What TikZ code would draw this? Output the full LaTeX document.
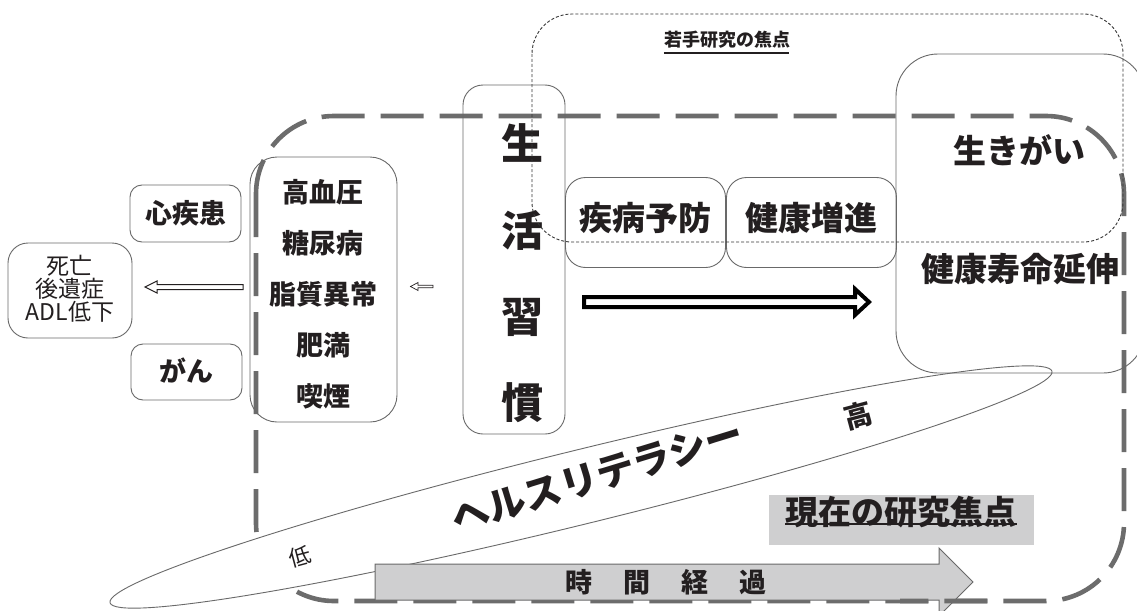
\documentclass[tikz,border=0pt]{standalone}
\usepackage{fontspec}
\newfontfamily\jp{Noto Sans CJK JP}
\definecolor{dashc}{RGB}{108,108,108}
\definecolor{lgray}{RGB}{207,207,208}
\definecolor{txt}{RGB}{35,31,32}
\definecolor{boxc}{RGB}{105,105,105}
\definecolor{dotc}{RGB}{55,55,55}
\begin{document}
\begin{tikzpicture}[x=1pt,y=-1pt,
  box/.style={draw=boxc,line width=0.9pt,rounded corners=#1,minimum width=0pt,minimum height=0pt,inner sep=0pt},
  bigdash/.style={draw=dashc,line width=4.6pt,dash pattern=on 43pt off 16pt,rounded corners=78pt},
  dotrect/.style={draw=dotc,line width=0.9pt,dash pattern=on 3pt off 2pt,rounded corners=40pt},
  bt/.style={text=txt,inner sep=0pt,font=\jp\bfseries\fontsize{#1}{#1}\selectfont},
  rt/.style={text=txt,inner sep=0pt,font=\jp\fontsize{#1}{#1}\selectfont},
  band/.style={draw=boxc,line width=0.9pt,fill=white},
]
\useasboundingbox[fill=white] (0,0) rectangle (1137,610);

% big dashed frame
\draw[bigdash] (256,116) rectangle (1124,601);

% health literacy band
\draw[band,rotate around={13.8:(581,487)}] (581,487) ellipse [x radius=485, y radius=37];
\node[bt=38,rotate=17] (hl) at (597,476) {ヘルスリテラシー};
\node[bt=28,rotate=15] (high) at (858,416) {高};
\node[rt=22,rotate=15] (low) at (300,557) {低};

% left outcome box
\node[box=20pt,minimum width=124pt,minimum height=95pt] (death) at (70,290.5) {};
\node[rt=23,align=center] (deathT) at (70,289) {\fontsize{23pt}{29pt}\selectfont 死亡\\後遺症\\ADL低下};

% disease boxes
\node[box=12pt,minimum width=111pt,minimum height=57pt] (heart) at (185.5,213.5) {};
\node[bt=27] (heartT) at (185.5,213) {心疾患};
\node[box=12pt,minimum width=111pt,minimum height=56pt] (cancer) at (186.5,372) {};
\node[bt=27] (cancerT) at (186.5,371) {がん};

% risk factor box
\node[box=27pt,minimum width=147pt,minimum height=265pt] (risk) at (323.5,289.5) {};
\node[bt=27] (r1) at (323,192) {高血圧};
\node[bt=27] (r2) at (323,243) {糖尿病};
\node[bt=27] (r3) at (323,294) {脂質異常};
\node[bt=27] (r4) at (323,345) {肥満};
\node[bt=27] (r5) at (323,396) {喫煙};

% hollow arrows
\draw[draw=txt,line width=1pt,fill=white,line join=miter]
  (243,284.5) -- (157,284.5) -- (157,281) -- (145,287) -- (157,293) -- (157,289.5) -- (243,289.5) -- cycle;
\draw[draw=txt,line width=0.7pt,fill=white,line join=miter]
  (433,285.3) -- (418,285.3) -- (418,282.5) -- (410.5,286.5) -- (418,290.5) -- (418,287.7) -- (433,287.7) -- cycle;

% lifestyle box
\node[box=20pt,minimum width=102pt,minimum height=349pt] (life) at (514,259.5) {};
\node[bt=42] (l1) at (522,143) {生};
\node[bt=42] (l2) at (522,230) {活};
\node[bt=42] (l3) at (522,317) {習};
\node[bt=42] (l4) at (522,403) {慣};

% prevention / promotion boxes
\node[box=20pt,minimum width=160pt,minimum height=90pt] (prev) at (645.5,222.5) {};
\node[bt=33] (prevT) at (645,218) {疾病予防};
\node[box=20pt,minimum width=170pt,minimum height=90pt] (prom) at (811.5,222.5) {};
\node[bt=33] (promT) at (811,218) {健康増進};

% thick arrow
\draw[draw=black,line width=4pt,fill=white,line join=miter]
  (584,297) -- (855,297) -- (855,289) -- (869,302) -- (855,315) -- (855,307) -- (584,307) -- cycle;

% right box
\node[box=42pt,minimum width=249pt,minimum height=319pt] (goal) at (1020.5,213.5) {};
\node[bt=33] (goalA) at (1019,150) {生きがい};
\node[bt=33] (goalB) at (1020,269) {健康寿命延伸};

% young researcher focus (dotted)
\draw[dotrect] (532,14) rectangle (1123,242);
\node[bt=18] (young) at (727,40) {若手研究の焦点};
\draw[txt,line width=1.6pt] (young.south west) ++(0,4) -- ++(125,0);

% current research focus
\node[fill=lgray,minimum width=265pt,minimum height=50pt,inner sep=0pt] (curbox) at (901.5,520) {};
\node[bt=33] (cur) at (901,512) {現在の研究焦点};
\draw[txt,line width=2.4pt] (785,524) -- (1017,524);

% time arrow
\draw[draw=boxc,line width=1pt,fill=lgray]
  (375,564) -- (939,564) -- (939,548) -- (973,582) -- (939,616) -- (939,600) -- (375,600) -- cycle;
\node[bt=27] (time) at (666,582) {時\hspace{31pt}間\hspace{31pt}経\hspace{31pt}過};

% dashed frame over arrow head
\begin{scope}
\clip (900,590) rectangle (1000,612);
\draw[bigdash] (256,116) rectangle (1124,601);
\end{scope}
\end{tikzpicture}
\end{document}
